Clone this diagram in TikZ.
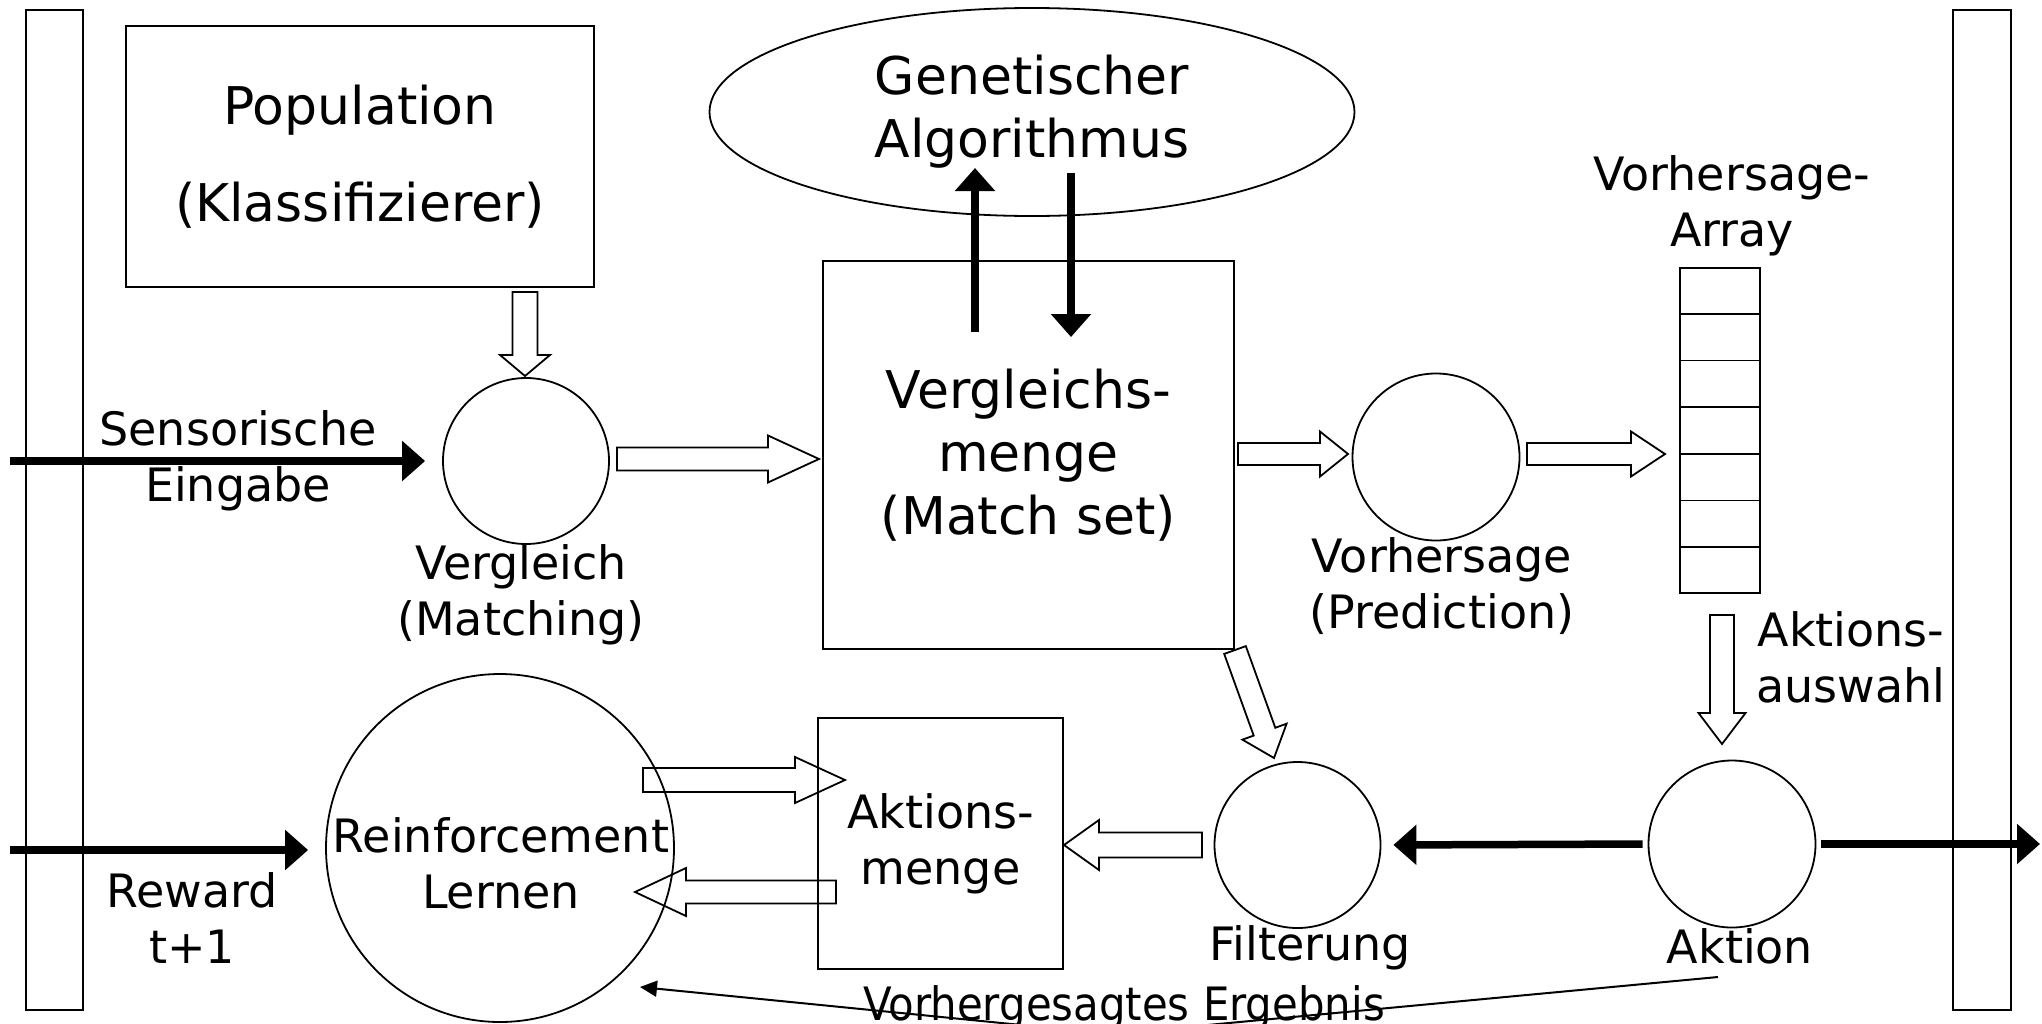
\documentclass[tikz,border=0pt]{standalone}
\usepackage{fontspec}
\setmainfont{DejaVu Sans}
\usepackage{graphicx}
\usetikzlibrary{calc,arrows.meta,shapes.geometric}

\newcommand\hollowarr[5]{%
  \draw[hollow] ($(#1)!#3!90:(#2)$) -- ($(#2)!#5!(#1)!#3!-90:(#1)$) -- ($(#2)!#5!(#1)!#4!-90:(#1)$) -- (#2) -- ($(#2)!#5!(#1)!#4!90:(#1)$) -- ($(#2)!#5!(#1)!#3!90:(#1)$) -- ($(#1)!#3!-90:(#2)$) -- cycle;}

\tikzset{
  ln/.style={line width=1.8pt},
  boxst/.style={draw, line width=1.8pt, inner sep=0pt},
  circst/.style={draw, circle, line width=1.8pt, inner sep=0pt},
  smallfont/.style={font=\fontsize{46}{56}\selectfont},
  bigfont/.style={font=\fontsize{52}{63}\selectfont},
  lbl/.style={smallfont, align=center, anchor=base, inner sep=0pt},
  thickarr/.style={line width=7.5pt, -{Triangle[length=23pt,width=39pt]}},
  hollow/.style={line width=1.8pt, line join=miter},
}

\begin{document}
\begin{tikzpicture}[x=1pt,y=-1pt]
\useasboundingbox (0,0) rectangle (2042,1023);

% side bars
\node[boxst, minimum width=57pt, minimum height=1000pt] (lbar) at (54.5,510) {};
\node[boxst, minimum width=58pt, minimum height=1000pt] (rbar) at (1982,510) {};

% boxes
\node[boxst, minimum width=468pt, minimum height=261pt, font=\fontsize{52}{97}\selectfont, align=center] (pop) at (360,156.5) {Population\\(Klassifizierer)};
\node[draw, ellipse, line width=1.8pt, inner sep=0pt, minimum width=645pt, minimum height=208pt, bigfont, align=center] (ga) at (1032,112) {Genetischer\\Algorithmus};
\node[boxst, minimum width=411pt, minimum height=388pt, bigfont, align=center] (ms) at (1028.5,455) {Vergleichs-\\menge\\(Match set)};
\node[boxst, minimum width=245pt, minimum height=251pt, smallfont, align=center] (am) at (940.5,843.5) {Aktions-\\menge};

% circles
\node[circst, minimum size=166pt] (vgl) at (526,461) {};
\node[circst, minimum size=167pt] (vor) at (1436,457) {};
\node[circst, minimum size=166pt] (filt) at (1297.5,845) {};
\node[circst, minimum size=167pt] (akt) at (1732,844) {};
\node[circst, minimum size=348pt] (rl) at (500,848) {};

% prediction array
\node[boxst, minimum width=80pt, minimum height=325pt] (arr) at (1720,430.5) {};
\foreach \k in {1,...,6}
  \draw[ln] ($(arr.north west)!\k/7!(arr.south west)$) -- ($(arr.north east)!\k/7!(arr.south east)$);

% labels (anchor base = baseline of last line)
\node[lbl] (lsens) at (238,501) {Sensorische\\Eingabe};
\node[lbl] (lvgl) at (521,635) {Vergleich\\(Matching)};
\node[lbl] (lvor) at (1442,628) {Vorhersage\\(Prediction)};
\node[lbl] (larr) at (1732,246) {Vorhersage-\\Array};
\node[lbl] (lausw) at (1851,702) {Aktions-\\auswahl};
\node[lbl] (lrew) at (192,963) {Reward\\t+1};
\node[lbl] (lfilt) at (1310,960) {Filterung};
\node[lbl] (lakt) at (1740,963) {Aktion};
\node[lbl] (lrl) at (501,908) {Reinforcement\\Lernen};
\node[lbl] (lerg) at (1124,1020) {\scalebox{0.91}[1]{Vorhergesagtes Ergebnis}};

% thick black arrows
\coordinate (sin) at (10,461);
\draw[thickarr, shorten >=17pt] (sin) -- (vgl.west);
\coordinate (rin) at (10,850);
\draw[thickarr, shorten >=17pt] (rin) -- (rin -| rl.west);
\coordinate (gu0) at (975,332); \coordinate (gu1) at (975,168);
\coordinate (gd0) at (1071,173); \coordinate (gd1) at (1071,337);
\draw[thickarr] (gu0) -- (gu1);
\draw[thickarr] (gd0) -- (gd1);
\draw[thickarr, shorten <=5pt, shorten >=12pt] (akt.west) -- (filt.east);
\coordinate (aout) at (2040,844);
\draw[thickarr, shorten <=5pt] (akt.east) -- (aout);

% predicted result line
\coordinate (e0) at (1718,977); \coordinate (e1) at (1112,1034); \coordinate (e2) at (640,987);
\draw[line width=2pt, -{Triangle[length=17pt,width=16pt]}] (e0) -- (e1) -- (e2);

% hollow arrows
\coordinate (h1a) at (525,292);  \coordinate (h1b) at (525,376);
\hollowarr{h1a}{h1b}{12.5pt}{25pt}{21pt}
\coordinate (h2a) at (617,459);  \coordinate (h2b) at (819,459);
\hollowarr{h2a}{h2b}{11.5pt}{23.5pt}{51pt}
\coordinate (h3a) at (1238,454); \coordinate (h3b) at (1348,454);
\hollowarr{h3a}{h3b}{11pt}{22.5pt}{28pt}
\coordinate (h4a) at (1527,454); \coordinate (h4b) at (1665,454);
\hollowarr{h4a}{h4b}{11pt}{22.5pt}{34pt}
\coordinate (h5a) at (1722,615); \coordinate (h5b) at (1722,744);
\hollowarr{h5a}{h5b}{12pt}{23.5pt}{31pt}
\coordinate (h6a) at (1235,650); \coordinate (h6b) at (1274,758);
\hollowarr{h6a}{h6b}{11.5pt}{23.5pt}{28pt}
\coordinate (h7a) at (1202,845); \coordinate (h7b) at (1064,845);
\hollowarr{h7a}{h7b}{12.5pt}{25pt}{35pt}
\coordinate (h8a) at (643,780);  \coordinate (h8b) at (845,780);
\hollowarr{h8a}{h8b}{12pt}{23pt}{50pt}
\coordinate (h9a) at (836,892);  \coordinate (h9b) at (635,892);
\hollowarr{h9a}{h9b}{11.5pt}{24pt}{51pt}
\end{tikzpicture}
\end{document}
